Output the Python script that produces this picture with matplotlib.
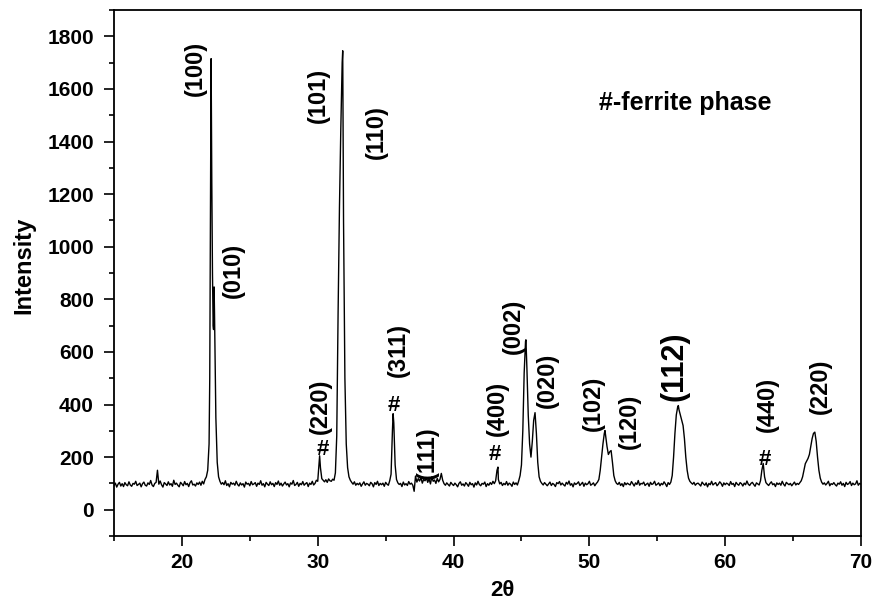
#!/usr/bin/python3
import numpy as np
import matplotlib
matplotlib.use('Agg')
import matplotlib.pyplot as plt
from matplotlib.ticker import MultipleLocator

plt.rcParams['font.family'] = ['Liberation Sans', 'DejaVu Sans']
plt.rcParams['font.weight'] = 'bold'

two_theta_start = 15.0
two_theta_step = 0.1
intensity = [
    92, 101, 86, 97, 104, 90, 99, 88, 103, 95,          # 15
    91, 106, 94, 89, 100, 97, 108, 92, 96, 101,         # 16
    87, 99, 105, 93, 90, 102, 96, 111, 94, 88,          # 17
    100, 104, 150, 97, 109, 95, 86, 103, 98, 92,        # 18
    106, 94, 99, 89, 112, 96, 101, 93, 87, 104,         # 19
    98, 91, 107, 95, 100, 88, 103, 110, 94, 97,         # 20
    90, 102, 96, 105, 93, 108, 98, 115, 125, 150,       # 21
    250, 1100, 1250, 700, 750, 350, 180, 125, 108, 97,  # 22
    103, 95, 110, 92, 99, 87, 104, 97, 101, 93,         # 23
    108, 96, 90, 102, 94, 99, 86, 105, 97, 100,         # 24
    91, 107, 95, 98, 103, 89, 101, 96, 110, 93,         # 25
    99, 87, 104, 97, 92, 106, 95, 100, 88, 103,         # 26
    96, 109, 93, 101, 90, 98, 105, 94, 99, 87,          # 27
    102, 97, 111, 92, 96, 104, 89, 100, 95, 107,        # 28
    93, 99, 103, 88, 101, 96, 108, 94, 100, 112,        # 29
    108, 180, 160, 118, 112, 106, 114, 104, 117, 110,   # 30
    108, 116, 112, 140, 280, 750, 1150, 1450, 1700, 1100,  # 31
    500, 250, 160, 125, 112, 104, 97, 106, 93, 100,     # 32
    95, 102, 89, 98, 106, 93, 100, 97, 91, 104,         # 33
    99, 87, 103, 96, 108, 92, 100, 95, 101, 89,         # 34
    104, 97, 93, 110, 135, 300, 330, 170, 115, 102,     # 35
    96, 100, 88, 105, 94, 99, 92, 107, 97, 101,         # 36
    93, 70, 128, 105, 118, 109, 122, 101, 115, 110,     # 37
    120, 104, 117, 98, 125, 108, 113, 100, 119, 106,    # 38
    115, 138, 112, 99, 93, 102, 96, 90, 104, 97,        # 39
    92, 101, 95, 87, 100, 106, 93, 98, 90, 103,         # 40
    97, 89, 104, 95, 99, 86, 102, 94, 108, 96,          # 41
    91, 100, 97, 105, 88, 99, 93, 103, 96, 108,         # 42
    99, 110, 150, 115, 98, 104, 92, 100, 95, 107,       # 43
    93, 101, 97, 89, 105, 96, 102, 94, 110, 130,        # 44
    170, 300, 520, 640, 540, 360, 250, 200, 260, 340,   # 45
    369, 290, 180, 125, 108, 100, 94, 103, 97, 91,      # 46
    98, 105, 92, 100, 96, 88, 103, 99, 107, 94,         # 47
    101, 95, 90, 104, 97, 109, 93, 99, 87, 102,         # 48
    96, 100, 106, 92, 98, 104, 89, 101, 95, 99,         # 49
    108, 93, 97, 102, 91, 99, 105, 115, 150, 200,       # 50
    250, 290, 280, 240, 210, 220, 225, 180, 130, 110,   # 51
    100, 96, 104, 92, 99, 88, 103, 95, 101, 97,         # 52
    94, 107, 99, 90, 102, 96, 111, 93, 100, 98,         # 53
    105, 92, 97, 101, 89, 104, 96, 99, 108, 93,         # 54
    97, 102, 91, 100, 95, 106, 98, 88, 103, 96,         # 55
    105, 130, 200, 290, 360, 390, 380, 360, 340, 320,   # 56
    270, 200, 150, 120, 108, 102, 97, 104, 93, 99,      # 57
    101, 96, 90, 105, 98, 93, 102, 87, 100, 95,         # 58
    108, 94, 99, 103, 91, 97, 106, 100, 89, 102,        # 59
    95, 101, 98, 92, 107, 96, 100, 88, 104, 97,         # 60
    93, 103, 99, 90, 101, 95, 109, 97, 92, 100,         # 61
    104, 96, 89, 102, 98, 94, 110, 150, 176, 125,       # 62
    103, 97, 92, 100, 106, 95, 99, 88, 102, 96,         # 63
    101, 93, 108, 97, 90, 104, 99, 95, 100, 91,         # 64
    98, 105, 94, 100, 96, 103, 110, 125, 150, 175,      # 65
    185, 195, 210, 240, 270, 290, 295, 260, 200, 150,   # 66
    120, 105, 97, 102, 94, 100, 108, 91, 99, 96,        # 67
    103, 95, 90, 101, 97, 106, 93, 100, 88, 104,        # 68
    96, 99, 107, 92, 101, 95, 98, 110, 93, 100,         # 69
    97,                                                 # 70
]

# extra points on the sharp peak tops, between the 0.1 deg steps
peak_two_theta = [22.05, 22.15, 22.25, 22.33, 22.37, 22.45, 30.14, 31.84,
                  35.55, 43.27, 45.33, 51.15, 56.55]
peak_intensity = [500, 1715, 900, 685, 847, 550, 205, 1745,
                  365, 162, 646, 301, 396]

# reflection labels (text, 2theta, intensity)
hkl_labels = ['(100)', '(010)', '(101)', '(110)', '(220)', '(311)', '(111)',
              '(400)', '(002)', '(020)', '(102)', '(120)', '(440)', '(220)']
hkl_x = [20.97, 23.78, 30.04, 34.32, 30.19, 35.94, 38.08,
         43.24, 44.42, 46.93, 50.32, 52.98, 63.08, 66.99]
hkl_y = [1678, 910, 1575, 1435, 392, 606, 218,
         386, 697, 492, 404, 336, 401, 469]

# ferrite phase markers
ferrite_x = [30.41, 35.58, 43.02, 62.94]
ferrite_y = [228, 397, 210, 190]

# merge the regular scan with the extra peak points
scan_x = two_theta_start + two_theta_step * np.arange(len(intensity))
x = np.concatenate([scan_x, peak_two_theta])
y = np.concatenate([intensity, peak_intensity])
order = np.argsort(x)
x = x[order]
y = y[order]

# create figure
fig = plt.figure(figsize=(8.75, 6.08), dpi=100)
ax = fig.add_axes([114 / 875, 72 / 608, 747 / 875, 526 / 608])

ax.plot(x, y, '-', color='black', linewidth=1.0)

for t, lx, ly in zip(hkl_labels, hkl_x, hkl_y):
    ax.text(lx, ly, t, rotation=90, ha='center', va='center',
            fontsize=17, fontweight='bold')
ax.text(56.30, 545, '(112)', rotation=90, ha='center', va='center',
        fontsize=22, fontweight='bold')

for fx, fy in zip(ferrite_x, ferrite_y):
    ax.text(fx, fy, '#', ha='center', va='center', fontsize=16,
            fontweight='bold')

ax.text(50.69, 1548, '#-ferrite phase', ha='left', va='center',
        fontsize=18, fontweight='bold')

# axes settings
ax.set_xlim(15, 70)
ax.set_ylim(-100, 1900)
ax.set_xticks([20, 30, 40, 50, 60, 70])
ax.set_yticks(np.arange(0, 1801, 200))
ax.xaxis.set_minor_locator(MultipleLocator(5))
ax.yaxis.set_minor_locator(MultipleLocator(100))
ax.tick_params(which='major', direction='out', length=7.5, width=1.2,
               labelsize=15, pad=5)
ax.tick_params(which='minor', direction='out', length=3.8, width=1.2)
ax.tick_params(axis='y', which='major', pad=7)
for lab in ax.get_xticklabels() + ax.get_yticklabels():
    lab.set_fontweight('bold')
for s in ax.spines.values():
    s.set_linewidth(1.3)

fig.text(24 / 875, 1 - 265 / 608, 'Intensity', rotation=90, ha='center',
         va='center', fontsize=17, fontweight='bold')
fig.text(502 / 875, 1 - 590 / 608, '2θ', ha='center', va='center',
         fontsize=16, fontweight='bold')

fig.savefig('out.png', dpi=100)
